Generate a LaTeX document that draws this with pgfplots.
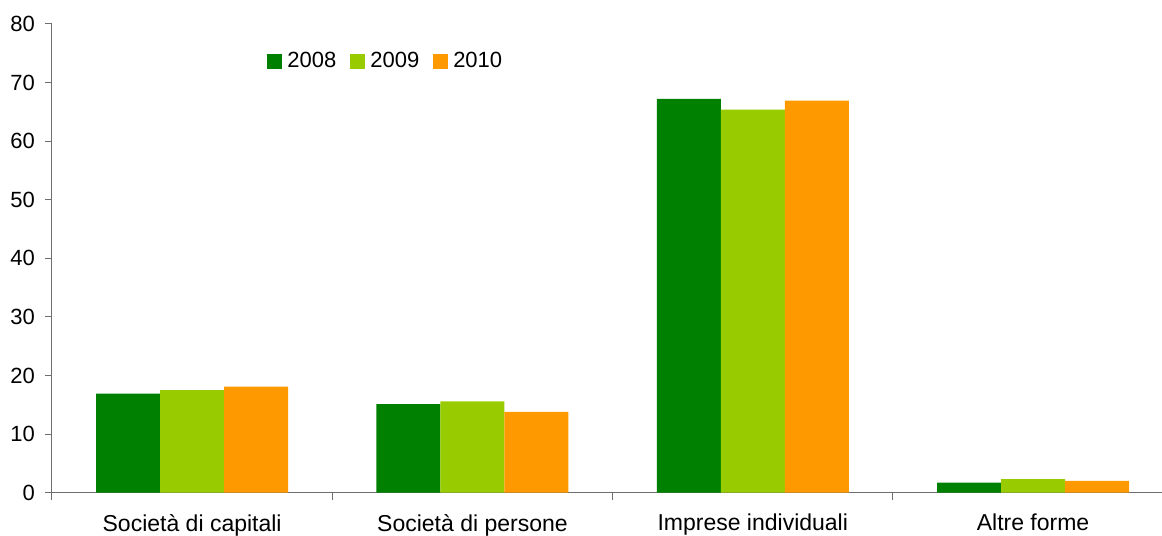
\documentclass[border=0pt]{standalone}
\usepackage{pgfplots}
\pgfplotsset{compat=1.18}
\usepackage{fontspec}
\setmainfont{Liberation Sans}
\usetikzlibrary{calc}

\definecolor{cA}{HTML}{008000}
\definecolor{cB}{HTML}{99CC00}
\definecolor{cC}{HTML}{FF9900}
\definecolor{axgray}{HTML}{6E6E6E}

\begin{document}
\fontsize{22}{26}\selectfont
\begin{tikzpicture}
\begin{axis}[
  scale only axis,
  width=1110pt, height=468.7pt,
  ymin=0, ymax=80, ytick={0,10,...,80},
  xmin=-0.5, xmax=3.46,
  axis x line*=bottom, axis y line*=left,
  axis line style={axgray, line width=1pt},
  tick style={axgray, line width=1pt},
  tick align=outside,
  major tick length=7pt,
  xtick={0,1,2,3},
  xticklabels={Società di capitali, Società di persone, Imprese individuali, Altre forme},
  major x tick style={draw=none},
  minor xtick={-0.5,0.5,1.5,2.5},
  minor tick length=7pt,
  minor x tick style={axgray, line width=1pt},
  tick label style={font=\fontsize{22}{26}\selectfont},
  xticklabel style={font=\fontsize{23}{27}\selectfont, yshift=-7pt},
  yticklabel style={xshift=-2.5pt},
  /pgf/number format/assume math mode=true,
  ybar=0pt, bar width=64pt,
  legend style={at={(0.1907,0.919)}, anchor=west, draw=none, fill=none,
    font=\fontsize{22}{26}\selectfont, legend columns=3,
    /tikz/every odd column/.append style={column sep=3.5pt},
    /tikz/every even column/.append style={column sep=11.5pt}},
  legend image code/.code={\fill[#1] (0pt,-7.5pt) rectangle (15pt,7.5pt);},
]
\addplot[fill=cA, draw=none] coordinates {(0,16.9) (1,15.1) (2,67.2) (3,1.7)};
\addplot[fill=cB, draw=none] coordinates {(0,17.5) (1,15.6) (2,65.4) (3,2.3)};
\addplot[fill=cC, draw=none] coordinates {(0,18.1) (1,13.8) (2,66.9) (3,2.0)};
\legend{2008, 2009, 2010}
\end{axis}
\pgfresetboundingbox
\path[use as bounding box] ($(current axis.south west)+(-52pt,-43.3pt)$) rectangle ($(current axis.north east)+(0pt,24pt)$);
\end{tikzpicture}
\end{document}
